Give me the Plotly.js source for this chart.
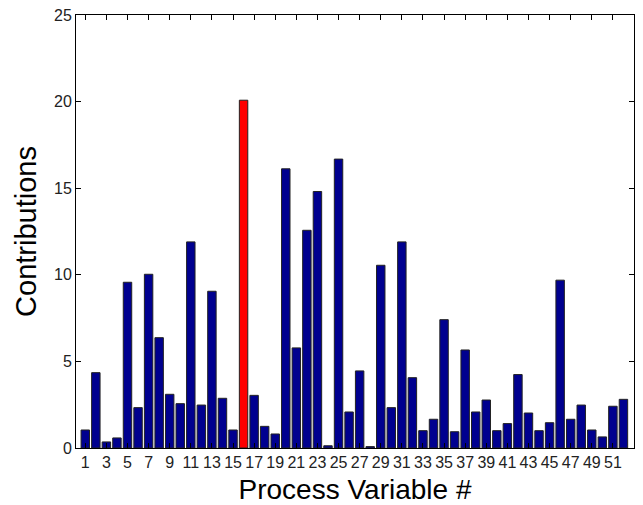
<!DOCTYPE html>
<html>
<head>
<meta charset="utf-8">
<script src="https://cdn.plot.ly/plotly-3.0.1.min.js"></script>
<style>html,body{margin:0;padding:0;background:#fff;}#chart{width:643px;height:505px;}</style>
</head>
<body>
<div id="chart"></div>
<script>
const variables = Array.from({length: 52}, (_, i) => i + 1);
const contributions = [
  1.04, 4.35, 0.35, 0.58, 9.57, 2.33, 10.03, 6.37, 3.10, 2.56,
  11.90, 2.48, 9.05, 2.87, 1.04, 20.08, 3.04, 1.25, 0.81, 16.12,
  5.78, 12.57, 14.81, 0.13, 16.68, 2.08, 4.45, 0.08, 10.55, 2.33,
  11.90, 4.06, 1.00, 1.66, 7.41, 0.94, 5.66, 2.08, 2.77, 1.00,
  1.41, 4.24, 2.02, 1.00, 1.46, 9.69, 1.66, 2.48, 1.04, 0.64,
  2.41, 2.81
];
const xTickVals = [1,3,5,7,9,11,13,15,17,19,21,23,25,27,29,31,33,35,37,39,41,43,45,47,49,51];
const yTickVals = [0,5,10,15,20,25];
const highlighted = 16;

const colors = variables.map(v => v === highlighted ? '#ff0000' : '#00008f');

const trace = {
  type: 'bar',
  x: variables,
  y: contributions,
  width: 0.8,
  marker: {color: colors, line: {color: '#222222', width: 1}},
  hoverinfo: 'x+y'
};

const layout = {
  width: 643, height: 505,
  margin: {l: 76, r: 9, t: 15, b: 57},
  paper_bgcolor: '#ffffff', plot_bgcolor: '#ffffff',
  showlegend: false,
  font: {family: 'Liberation Sans, Arial, sans-serif', color: '#000'},
  xaxis: {
    range: [0.12, 53],
    tickvals: xTickVals,
    ticktext: xTickVals.map(String),
    ticks: 'inside', ticklen: 5, tickcolor: '#000',
    showline: true, linecolor: '#000', linewidth: 1, mirror: 'ticks',
    showgrid: false, zeroline: false,
    tickfont: {size: 16, family: 'Liberation Sans, Arial, sans-serif', color: '#222'},
    title: {text: 'Process Variable #', font: {size: 28, family: 'Liberation Sans, Arial, sans-serif', color: '#000'}, standoff: 9},
    automargin: false
  },
  yaxis: {
    range: [0, 25],
    tickvals: yTickVals,
    ticks: 'inside', ticklen: 5, tickcolor: '#000',
    showline: true, linecolor: '#000', linewidth: 1, mirror: 'ticks',
    showgrid: false, zeroline: false,
    tickfont: {size: 16, family: 'Liberation Sans, Arial, sans-serif', color: '#222'},
    title: {text: 'Contributions', font: {size: 29, family: 'Liberation Sans, Arial, sans-serif', color: '#000'}, standoff: 8},
    automargin: false
  }
};

Plotly.newPlot('chart', [trace], layout, {displayModeBar: false, staticPlot: true});
</script>
</body>
</html>
